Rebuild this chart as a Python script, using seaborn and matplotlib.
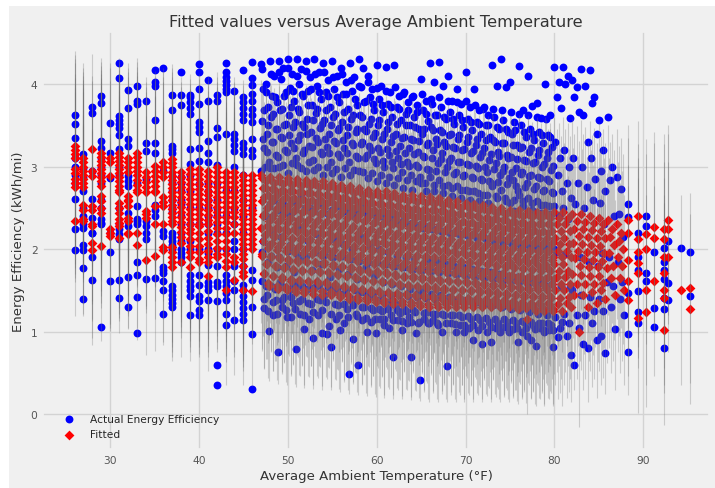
import numpy as np
import pandas as pd
import matplotlib
matplotlib.use("Agg")
import matplotlib.pyplot as plt
from matplotlib.patches import Rectangle
import seaborn as sns

HALF_WIDTH = 1.15  # half width of the prediction interval

# cold side: one column of trips per whole degree
sparse_temp = [26, 27, 28, 29, 30, 31, 32, 33, 34, 35, 36, 37, 38, 39, 40, 41, 42, 43, 44, 45, 46]
sparse_actual = [
    [3.63, 3.51, 3.35, 2.99, 2.61, 2.25, 1.99, 3.1, 2.9, 2.8],
    [3.15, 2.71, 2.26, 2.05, 1.99, 1.77, 1.40, 2.98, 2.88, 2.5, 2.4, 2.3],
    [3.72, 3.65, 2.61, 2.38, 2.2, 2.19, 1.91, 1.63, 2.95],
    [3.86, 3.77, 3.31, 3.23, 3.0, 2.36, 2.32, 2.3, 1.06, 2.9, 2.8, 2.6, 2.5, 3.1],
    [3.53, 3.17, 2.86, 1.96, 1.61, 2.2],
    [4.26, 4.07, 3.61, 3.56, 3.52, 3.47, 3.38, 3.21, 2.24, 2.18, 2.12, 1.63, 1.41, 2.9, 2.7, 2.5, 2.3, 3.0],
    [3.93, 3.71, 3.33, 3.25, 2.89, 2.82, 2.76, 2.44, 2.28, 2.34, 1.66, 1.30],
    [3.98, 3.80, 3.76, 2.52, 2.36, 2.34, 2.3, 1.85, 1.69, 1.42, 0.98, 2.8],
    [3.80, 3.28, 3.19, 2.28, 2.2, 2.12, 2.34, 1.64, 2.85],
    [4.17, 4.03, 3.98, 3.57, 3.29, 3.17, 2.54, 2.47, 2.40, 1.65],
    [4.19, 2.95, 2.22, 2.16, 1.79, 1.75, 1.71, 1.62, 1.51, 1.22],
    [3.87, 3.69, 3.25, 3.21, 3.17, 2.89, 2.45, 2.1, 2.05, 1.55, 1.5, 1.45, 1.40, 1.35, 1.30, 2.6, 2.7, 2.2, 2.15, 2.0, 2.5, 2.8],
    [4.15, 3.87, 3.74, 2.87, 2.55, 1.95, 1.9, 1.85, 2.6, 2.4, 2.3, 2.7, 2.2, 2.0, 2.8, 2.1],
    [3.87, 3.84, 3.78, 3.71, 3.64, 3.21, 3.03, 2.31, 1.69, 1.61, 1.56, 1.50, 1.43, 1.20, 2.5, 2.7, 2.9, 2.1, 2.0],
    [4.24, 4.15, 3.94, 3.76, 3.54, 3.48, 3.42, 3.23, 3.07, 2.79, 2.3, 1.69, 1.57, 1.43, 1.37, 1.26, 1.20, 2.5, 2.0],
    [4.05, 3.80, 3.31, 3.16, 3.05, 1.95, 1.81, 1.39, 2.6, 2.4, 2.2, 2.8, 2.0, 1.6, 1.55, 2.5, 2.7, 2.3, 1.5],
    [3.87, 3.80, 3.47, 3.36, 3.02, 1.80, 1.37, 0.60, 0.36, 2.6, 2.4, 2.2, 2.8, 2.0, 1.6, 1.55, 2.5, 2.3],
    [4.26, 4.14, 4.09, 4.04, 3.99, 3.94, 3.9, 3.39, 2.7, 1.69, 1.62, 1.55, 1.47, 1.39, 1.21, 1.08, 2.4, 2.2, 2.0],
    [3.92, 3.39, 3.33, 3.26, 3.19, 2.99, 1.61, 1.51, 1.14, 2.5, 2.3, 2.1, 2.7, 1.8, 2.0],
    [4.17, 3.84, 3.78, 3.71, 3.64, 3.57, 3.29, 3.22, 3.15, 1.57, 1.5, 1.43, 1.36, 1.29, 1.22, 1.14, 2.6, 2.4, 2.2, 2.0, 1.8, 2.9],
    [4.27, 4.07, 3.99, 3.88, 3.8, 3.7, 3.62, 3.54, 3.33, 3.2, 3.13, 1.75, 1.63, 1.3, 0.97, 0.31, 2.5],
]
sparse_fitted = [
    [3.25, 3.2, 3.15, 3.1, 2.97, 2.92, 2.85, 2.8, 2.75, 2.34],
    [3.11, 3.05, 3.0, 2.95, 2.9, 2.85, 2.8, 2.75, 2.54, 2.48, 2.36, 2.34],
    [3.21, 2.95, 2.89, 2.52, 2.48, 2.3, 2.28, 2.08, 1.99],
    [3.17, 3.12, 3.07, 3.02, 2.97, 2.92, 2.87, 2.82, 2.76, 2.64, 2.58, 2.5, 2.44, 2.04],
    [3.11, 3.05, 2.89, 2.24, 2.2, 2.16],
    [3.17, 3.12, 3.07, 3.02, 2.97, 2.92, 2.87, 2.82, 2.77, 2.72, 2.69, 2.56, 2.5, 2.44, 2.36, 2.32, 2.28, 2.14],
    [3.11, 3.05, 2.99, 2.93, 2.64, 2.6, 2.58, 2.52, 2.38, 2.34, 2.2, 2.18],
    [3.17, 3.12, 3.06, 3.0, 2.95, 2.9, 2.84, 2.78, 2.72, 2.69, 2.2, 2.05],
    [2.93, 2.87, 2.81, 2.75, 2.69, 2.46, 2.42, 2.38, 1.87],
    [3.01, 2.95, 2.89, 2.83, 2.77, 2.71, 2.69, 2.52, 2.3, 1.92],
    [3.05, 2.99, 2.93, 2.87, 2.63, 2.57, 2.52, 2.3, 2.03, 1.99],
    [3.09, 3.04, 2.99, 2.94, 2.89, 2.84, 2.79, 2.74, 2.69, 2.64, 2.59, 2.54, 2.49, 2.44, 2.39, 2.34, 2.3, 2.03, 1.97, 1.91, 1.85, 1.79],
    [2.93, 2.87, 2.81, 2.75, 2.69, 2.63, 2.57, 2.51, 2.45, 2.39, 2.33, 2.27, 2.21, 2.15, 2.08, 1.84],
    [2.97, 2.91, 2.85, 2.79, 2.73, 2.67, 2.61, 2.55, 2.49, 2.43, 2.37, 2.31, 2.25, 2.2, 2.12, 2.04, 1.96, 1.91, 1.79],
    [2.97, 2.91, 2.85, 2.79, 2.73, 2.67, 2.61, 2.55, 2.49, 2.43, 2.37, 2.31, 2.28, 2.2, 2.12, 2.04, 1.96, 1.88, 1.84],
    [2.95, 2.89, 2.83, 2.77, 2.71, 2.65, 2.59, 2.53, 2.47, 2.41, 2.35, 2.3, 2.22, 2.14, 2.06, 1.98, 1.9, 1.84, 1.67],
    [2.99, 2.93, 2.87, 2.81, 2.75, 2.69, 2.63, 2.57, 2.51, 2.45, 2.39, 2.33, 2.26, 2.18, 2.1, 2.02, 1.94, 1.91],
    [2.93, 2.87, 2.81, 2.75, 2.69, 2.63, 2.57, 2.51, 2.45, 2.39, 2.33, 2.26, 2.18, 2.1, 2.02, 1.94, 1.86, 1.78, 1.51],
    [2.93, 2.87, 2.81, 2.75, 2.69, 2.63, 2.57, 2.51, 2.45, 2.39, 2.3, 2.2, 1.9, 1.84, 1.63],
    [2.9, 2.84, 2.78, 2.72, 2.66, 2.6, 2.54, 2.48, 2.42, 2.36, 2.3, 2.24, 2.18, 2.12, 2.06, 2.0, 1.94, 1.88, 1.8, 1.72, 1.67, 1.51],
    [2.9, 2.84, 2.78, 2.72, 2.66, 2.6, 2.54, 2.48, 2.42, 2.36, 2.3, 2.24, 2.18, 2.12, 2.06, 2.0, 1.49],
]

# mild range: many trips per degree, readings spread over the degree
dense_temp = list(range(47, 88))
eighths = [0.0, 0.5, 0.25, 0.75, 0.125, 0.625, 0.375, 0.875]
dense_actual = [
    [4.24, 4.00, 3.94, 3.72, 3.55, 3.40, 3.22, 3.05, 2.95, 2.40, 2.10, 1.85, 1.62, 1.45, 1.29, 1.01],
    [4.28, 4.10, 3.86, 3.78, 3.60, 3.45, 3.30, 3.12, 2.98, 2.60, 2.20, 1.78, 1.55, 1.38, 1.20, 0.75],
    [4.28, 4.20, 4.06, 3.90, 3.68, 3.50, 3.35, 3.18, 3.00, 2.55, 2.15, 1.80, 1.60, 1.42, 1.30, 1.18],
    [4.30, 4.12, 3.95, 3.80, 3.62, 3.48, 3.28, 3.10, 2.92, 2.45, 2.05, 1.72, 1.50, 1.35, 1.18, 0.79],
    [4.30, 4.18, 4.00, 3.85, 3.70, 3.52, 3.38, 3.20, 3.02, 2.65, 2.25, 1.88, 1.58, 1.40, 1.22, 1.03],
    [4.28, 4.08, 3.92, 3.75, 3.58, 3.42, 3.25, 3.08, 2.95, 2.50, 2.10, 1.75, 1.52, 1.33, 1.15, 0.92],
    [4.30, 4.15, 3.98, 3.82, 3.65, 3.47, 3.30, 3.15, 2.96, 2.58, 2.18, 1.82, 1.56, 1.38, 1.20, 0.99],
    [4.25, 4.05, 3.90, 3.72, 3.56, 3.40, 3.24, 3.06, 2.90, 2.42, 2.00, 1.66, 1.45, 1.07, 0.97, 0.82],
    [4.28, 4.10, 3.94, 3.78, 3.60, 3.44, 3.28, 3.12, 2.92, 2.52, 2.12, 1.76, 1.50, 1.32, 1.16, 1.02],
    [4.20, 4.02, 3.88, 3.70, 3.54, 3.38, 3.22, 3.05, 2.88, 2.46, 2.06, 1.70, 1.46, 1.28, 1.10, 0.49],
    [4.25, 4.08, 3.92, 3.75, 3.58, 3.42, 3.26, 3.10, 2.90, 2.40, 2.00, 1.64, 1.40, 1.22, 0.91, 0.60],
    [4.30, 4.20, 3.96, 3.80, 3.62, 3.46, 3.30, 3.14, 2.95, 2.55, 2.15, 1.78, 1.48, 1.30, 1.14, 1.00],
    [4.10, 3.94, 3.84, 3.68, 3.52, 3.36, 3.20, 3.04, 2.86, 2.44, 2.04, 1.68, 1.42, 1.26, 1.12, 0.98],
    [4.23, 3.98, 3.82, 3.66, 3.50, 3.34, 3.18, 3.00, 2.82, 2.40, 2.00, 1.60, 1.38, 1.25, 1.15, 1.08],
    [4.21, 3.90, 3.76, 3.60, 3.45, 3.30, 3.14, 2.98, 2.80, 2.36, 1.96, 1.58, 1.36, 1.20, 1.05, 0.70],
    [4.23, 3.86, 3.72, 3.56, 3.40, 3.25, 3.10, 2.94, 2.78, 2.32, 1.92, 1.55, 1.34, 1.23, 1.14, 1.02],
    [3.88, 3.78, 3.64, 3.50, 3.36, 3.22, 3.06, 2.90, 2.74, 2.30, 1.90, 1.52, 1.28, 1.18, 1.10, 0.70],
    [3.84, 3.74, 3.60, 3.46, 3.32, 3.18, 3.02, 2.88, 2.72, 2.28, 1.88, 1.50, 1.26, 1.10, 0.98, 0.42],
    [4.06, 3.80, 3.68, 3.55, 3.40, 3.26, 3.12, 2.96, 2.80, 2.70, 2.26, 1.86, 1.48, 1.24, 1.15, 1.10],
    [4.25, 4.02, 3.76, 3.62, 3.48, 3.34, 3.20, 3.04, 2.88, 2.70, 2.24, 1.84, 1.46, 1.22, 1.14, 1.08],
    [4.27, 3.97, 3.72, 3.58, 3.44, 3.30, 3.16, 3.00, 2.84, 2.68, 2.22, 1.82, 1.44, 1.20, 1.00, 0.58],
    [4.10, 3.80, 3.66, 3.52, 3.38, 3.24, 3.10, 2.94, 2.78, 2.64, 2.20, 1.80, 1.42, 1.20, 1.10, 1.00],
    [3.94, 3.76, 3.62, 3.48, 3.34, 3.20, 3.06, 2.90, 2.76, 2.62, 2.18, 1.78, 1.40, 1.18, 1.08, 1.00],
    [4.15, 3.72, 3.58, 3.44, 3.30, 3.16, 3.02, 2.86, 2.72, 2.60, 2.16, 1.76, 1.38, 1.16, 1.05, 0.90],
    [3.94, 3.68, 3.54, 3.40, 3.26, 3.12, 2.98, 2.84, 2.70, 2.58, 2.14, 1.74, 1.36, 1.14, 1.02, 0.85],
    [3.70, 3.62, 3.50, 3.36, 3.22, 3.08, 2.94, 2.80, 2.66, 2.56, 2.12, 1.72, 1.34, 1.12, 1.00, 0.87],
    [4.23, 3.98, 3.60, 3.46, 3.32, 3.18, 3.04, 2.90, 2.76, 2.62, 2.10, 1.70, 1.32, 1.10, 1.04, 1.00],
    [4.30, 3.96, 3.56, 3.42, 3.28, 3.14, 3.00, 2.86, 2.72, 2.58, 2.08, 1.68, 1.30, 1.12, 1.06, 1.00],
    [4.03, 3.54, 3.40, 3.26, 3.12, 2.98, 2.84, 2.70, 2.56, 2.46, 2.06, 1.66, 1.28, 1.10, 1.03, 0.88],
    [4.22, 3.69, 3.50, 3.36, 3.22, 3.08, 2.94, 2.80, 2.66, 2.52, 2.04, 1.64, 1.26, 1.12, 1.00, 0.95],
    [4.10, 3.73, 3.46, 3.32, 3.18, 3.04, 2.90, 2.76, 2.62, 2.48, 2.02, 1.62, 1.24, 1.08, 0.90, 0.83],
    [3.77, 3.59, 3.42, 3.28, 3.14, 3.00, 2.86, 2.72, 2.58, 2.44, 2.00, 1.60, 1.22, 1.10, 1.05, 1.00],
    [4.00, 3.63, 3.38, 3.24, 3.10, 2.96, 2.82, 2.68, 2.54, 2.42, 1.98, 1.58, 1.20, 1.08, 1.02, 0.82],
    [4.21, 4.03, 3.84, 3.71, 3.30, 3.10, 2.90, 2.70, 2.52, 2.40, 1.96, 1.56, 1.18, 1.04, 0.94, 1.12],
    [4.21, 4.10, 4.00, 3.59, 3.20, 3.00, 2.80, 2.62, 2.50, 2.36, 1.94, 1.54, 1.22, 1.10, 0.95, 0.72],
    [4.05, 3.96, 3.84, 3.66, 3.10, 2.80, 2.55, 1.90, 1.50, 1.20, 0.60, 1.05],
    [4.18, 3.98, 3.63, 3.30, 3.00, 2.75, 2.50, 1.85, 1.45, 1.20, 0.85, 0.80],
    [4.17, 3.84, 3.77, 3.40, 3.10, 2.85, 2.60, 1.80, 1.42, 1.25, 1.10, 0.90],
    [3.56, 3.20, 2.95, 2.70, 2.56, 2.30, 1.95, 1.60, 1.40, 1.25, 0.95, 0.74],
    [3.60, 2.99, 2.84, 2.40, 1.90, 1.55, 1.30, 1.03],
    [2.87, 2.73, 2.43, 2.15, 1.85, 1.60, 1.40, 1.20],
]
dense_fitted = [
    [2.90, 2.82, 2.74, 2.66, 2.58, 2.50, 2.42, 2.34, 2.26, 2.18, 2.10, 2.01, 1.92, 1.82, 1.70, 1.55],
    [2.88, 2.80, 2.73, 2.65, 2.57, 2.49, 2.41, 2.33, 2.25, 2.17, 2.08, 1.99, 1.90, 1.80, 1.67, 1.52],
    [2.87, 2.79, 2.71, 2.63, 2.55, 2.47, 2.40, 2.32, 2.24, 2.16, 2.07, 1.98, 1.88, 1.77, 1.64, 1.50],
    [2.86, 2.78, 2.70, 2.62, 2.54, 2.46, 2.38, 2.30, 2.22, 2.14, 2.05, 1.96, 1.86, 1.75, 1.62, 1.48],
    [2.85, 2.77, 2.69, 2.61, 2.53, 2.45, 2.37, 2.29, 2.21, 2.13, 2.04, 1.95, 1.85, 1.74, 1.61, 1.47],
    [2.84, 2.76, 2.68, 2.60, 2.52, 2.44, 2.36, 2.28, 2.20, 2.12, 2.03, 1.94, 1.84, 1.73, 1.60, 1.46],
    [2.83, 2.75, 2.67, 2.59, 2.51, 2.43, 2.35, 2.27, 2.19, 2.11, 2.02, 1.93, 1.83, 1.72, 1.59, 1.45],
    [2.82, 2.74, 2.66, 2.58, 2.50, 2.42, 2.34, 2.26, 2.18, 2.10, 2.01, 1.92, 1.82, 1.71, 1.58, 1.44],
    [2.80, 2.72, 2.64, 2.56, 2.48, 2.40, 2.32, 2.24, 2.16, 2.08, 1.99, 1.90, 1.80, 1.69, 1.56, 1.42],
    [2.78, 2.70, 2.62, 2.54, 2.46, 2.38, 2.30, 2.22, 2.14, 2.06, 1.97, 1.88, 1.78, 1.67, 1.54, 1.40],
    [2.76, 2.68, 2.60, 2.52, 2.44, 2.36, 2.28, 2.20, 2.12, 2.04, 1.95, 1.86, 1.76, 1.65, 1.52, 1.38],
    [2.74, 2.66, 2.58, 2.50, 2.42, 2.34, 2.26, 2.18, 2.10, 2.02, 1.93, 1.84, 1.74, 1.63, 1.50, 1.37],
    [2.72, 2.64, 2.56, 2.48, 2.40, 2.32, 2.24, 2.16, 2.08, 2.00, 1.91, 1.82, 1.72, 1.61, 1.48, 1.36],
    [2.71, 2.63, 2.55, 2.47, 2.39, 2.31, 2.23, 2.15, 2.07, 1.99, 1.90, 1.81, 1.71, 1.60, 1.47, 1.35],
    [2.70, 2.62, 2.54, 2.46, 2.38, 2.30, 2.22, 2.14, 2.06, 1.98, 1.89, 1.80, 1.70, 1.59, 1.46, 1.34],
    [2.68, 2.60, 2.52, 2.44, 2.36, 2.28, 2.20, 2.12, 2.04, 1.96, 1.87, 1.78, 1.68, 1.57, 1.45, 1.33],
    [2.66, 2.58, 2.50, 2.42, 2.34, 2.26, 2.18, 2.10, 2.02, 1.94, 1.85, 1.76, 1.66, 1.55, 1.44, 1.32],
    [2.65, 2.57, 2.49, 2.41, 2.33, 2.25, 2.17, 2.09, 2.01, 1.93, 1.84, 1.75, 1.65, 1.54, 1.43, 1.31],
    [2.64, 2.56, 2.48, 2.40, 2.32, 2.24, 2.16, 2.08, 2.00, 1.92, 1.83, 1.74, 1.64, 1.53, 1.42, 1.30],
    [2.63, 2.55, 2.47, 2.39, 2.31, 2.23, 2.15, 2.07, 1.99, 1.91, 1.82, 1.73, 1.63, 1.52, 1.41, 1.30],
    [2.62, 2.54, 2.46, 2.38, 2.30, 2.22, 2.14, 2.06, 1.98, 1.90, 1.81, 1.72, 1.62, 1.51, 1.40, 1.30],
    [2.60, 2.52, 2.44, 2.36, 2.28, 2.20, 2.12, 2.04, 1.96, 1.88, 1.80, 1.71, 1.61, 1.50, 1.39, 1.30],
    [2.58, 2.50, 2.42, 2.34, 2.26, 2.18, 2.10, 2.02, 1.94, 1.86, 1.78, 1.70, 1.60, 1.50, 1.39, 1.30],
    [2.56, 2.49, 2.41, 2.33, 2.25, 2.17, 2.09, 2.01, 1.93, 1.85, 1.77, 1.69, 1.59, 1.49, 1.38, 1.30],
    [2.55, 2.47, 2.40, 2.32, 2.24, 2.16, 2.08, 2.00, 1.92, 1.84, 1.76, 1.68, 1.58, 1.48, 1.38, 1.30],
    [2.53, 2.46, 2.38, 2.30, 2.22, 2.14, 2.06, 1.98, 1.90, 1.82, 1.74, 1.66, 1.57, 1.47, 1.37, 1.30],
    [2.51, 2.44, 2.36, 2.28, 2.20, 2.12, 2.04, 1.96, 1.88, 1.80, 1.72, 1.64, 1.56, 1.46, 1.36, 1.30],
    [2.50, 2.43, 2.35, 2.27, 2.19, 2.11, 2.03, 1.95, 1.87, 1.79, 1.71, 1.63, 1.55, 1.45, 1.36, 1.30],
    [2.48, 2.41, 2.33, 2.25, 2.17, 2.09, 2.01, 1.93, 1.85, 1.77, 1.69, 1.61, 1.53, 1.44, 1.35, 1.28],
    [2.47, 2.40, 2.32, 2.24, 2.16, 2.08, 2.00, 1.92, 1.84, 1.76, 1.68, 1.60, 1.52, 1.42, 1.33, 1.15],
    [2.46, 2.39, 2.31, 2.23, 2.15, 2.07, 1.99, 1.91, 1.83, 1.75, 1.67, 1.59, 1.51, 1.42, 1.33, 1.25],
    [2.45, 2.38, 2.30, 2.22, 2.14, 2.06, 1.98, 1.90, 1.82, 1.74, 1.66, 1.58, 1.50, 1.41, 1.33, 1.25],
    [2.45, 2.38, 2.30, 2.22, 2.14, 2.06, 1.98, 1.90, 1.82, 1.74, 1.66, 1.58, 1.50, 1.41, 1.33, 1.25],
    [2.45, 2.38, 2.30, 2.22, 2.14, 2.06, 1.98, 1.90, 1.82, 1.74, 1.66, 1.58, 1.50, 1.41, 1.33, 1.25],
    [2.45, 2.38, 2.30, 2.22, 2.14, 2.06, 1.98, 1.90, 1.82, 1.74, 1.66, 1.58, 1.50, 1.42, 1.35, 1.30],
    [2.43, 2.34, 2.25, 2.16, 2.07, 1.98, 1.89, 1.80, 1.70, 1.58, 1.45, 1.00],
    [2.42, 2.33, 2.24, 2.15, 2.06, 1.97, 1.88, 1.79, 1.69, 1.58, 1.45, 1.30],
    [2.40, 2.32, 2.23, 2.14, 2.05, 1.96, 1.87, 1.78, 1.68, 1.58, 1.48, 1.35],
    [2.38, 2.30, 2.22, 2.13, 2.04, 1.95, 1.86, 1.77, 1.68, 1.59, 1.50, 1.40],
    [2.35, 2.25, 2.15, 2.05, 1.95, 1.80, 1.65, 1.45],
    [2.30, 2.20, 2.10, 2.00, 1.90, 1.80, 1.65, 1.50],
]

# second batch of trips in the busiest stretch (47-79 F), read between the first ones
busy_temp = list(range(47, 80))
sixteenths = [0.0625, 0.5625, 0.3125, 0.8125, 0.1875, 0.6875, 0.4375, 0.9375]
busy_actual = [
    [4.18, 3.90, 3.68, 3.50, 3.34, 3.18, 3.00, 2.52, 1.96, 1.56, 1.40, 1.25],
    [4.12, 3.84, 3.64, 3.46, 3.30, 3.14, 2.98, 2.48, 1.92, 1.52, 1.36, 1.22],
    [4.15, 3.86, 3.70, 3.52, 3.36, 3.20, 3.02, 2.44, 1.90, 1.54, 1.38, 1.26],
    [4.20, 3.92, 3.72, 3.54, 3.38, 3.22, 3.04, 2.56, 1.98, 1.58, 1.42, 1.28],
    [4.10, 3.88, 3.66, 3.48, 3.32, 3.16, 2.98, 2.50, 1.94, 1.55, 1.37, 1.20],
    [4.16, 3.94, 3.74, 3.56, 3.40, 3.24, 3.06, 2.46, 1.92, 1.53, 1.35, 1.24],
    [4.12, 3.90, 3.70, 3.52, 3.35, 3.18, 3.00, 2.54, 1.96, 1.57, 1.40, 1.26],
    [4.14, 3.86, 3.68, 3.50, 3.34, 3.17, 2.99, 2.48, 1.93, 1.54, 1.36, 1.22],
    [4.08, 3.84, 3.64, 3.47, 3.31, 3.15, 2.97, 2.44, 1.90, 1.52, 1.34, 1.20],
    [4.12, 3.88, 3.66, 3.48, 3.32, 3.16, 2.98, 2.50, 1.92, 1.50, 1.33, 1.18],
    [4.05, 3.82, 3.62, 3.45, 3.29, 3.13, 2.96, 2.46, 1.88, 1.50, 1.32, 1.19],
    [3.98, 3.78, 3.60, 3.43, 3.27, 3.11, 2.94, 2.42, 1.86, 1.48, 1.30, 1.17],
    [4.02, 3.76, 3.58, 3.41, 3.25, 3.09, 2.92, 2.40, 1.85, 1.47, 1.29, 1.16],
    [3.95, 3.74, 3.56, 3.39, 3.23, 3.07, 2.90, 2.38, 1.84, 1.46, 1.28, 1.15],
    [3.92, 3.72, 3.54, 3.37, 3.21, 3.05, 2.88, 2.36, 1.82, 1.45, 1.27, 1.14],
    [3.96, 3.70, 3.52, 3.35, 3.19, 3.03, 2.86, 2.34, 1.80, 1.44, 1.26, 1.13],
    [3.90, 3.68, 3.50, 3.33, 3.17, 3.01, 2.84, 2.32, 1.78, 1.43, 1.25, 1.12],
    [3.86, 3.66, 3.48, 3.31, 3.15, 2.99, 2.82, 2.30, 1.76, 1.42, 1.24, 1.12],
    [3.88, 3.64, 3.46, 3.29, 3.13, 2.97, 2.80, 2.28, 1.75, 1.41, 1.23, 1.11],
    [3.82, 3.62, 3.44, 3.27, 3.11, 2.95, 2.78, 2.26, 1.74, 1.40, 1.22, 1.10],
    [3.84, 3.60, 3.42, 3.25, 3.09, 2.93, 2.76, 2.24, 1.72, 1.40, 1.21, 1.10],
    [3.80, 3.58, 3.40, 3.23, 3.07, 2.91, 2.74, 2.22, 1.71, 1.39, 1.20, 1.09],
    [3.78, 3.56, 3.38, 3.21, 3.05, 2.89, 2.72, 2.20, 1.70, 1.38, 1.20, 1.08],
    [3.80, 3.54, 3.36, 3.19, 3.03, 2.87, 2.70, 2.18, 1.68, 1.37, 1.19, 1.08],
    [3.74, 3.52, 3.34, 3.17, 3.01, 2.85, 2.68, 2.16, 1.66, 1.36, 1.18, 1.07],
    [3.72, 3.50, 3.32, 3.15, 2.99, 2.83, 2.66, 2.14, 1.65, 1.35, 1.17, 1.06],
    [3.70, 3.48, 3.30, 3.13, 2.97, 2.81, 2.64, 2.12, 1.64, 1.34, 1.16, 1.06],
    [3.68, 3.46, 3.28, 3.11, 2.95, 2.79, 2.62, 2.10, 1.62, 1.33, 1.15, 1.05],
    [3.66, 3.44, 3.26, 3.09, 2.93, 2.77, 2.60, 2.08, 1.61, 1.32, 1.14, 1.04],
    [3.64, 3.42, 3.24, 3.07, 2.91, 2.75, 2.58, 2.06, 1.60, 1.31, 1.13, 1.04],
    [3.62, 3.40, 3.22, 3.05, 2.89, 2.73, 2.56, 2.04, 1.58, 1.30, 1.12, 1.03],
    [3.60, 3.38, 3.20, 3.03, 2.87, 2.71, 2.54, 2.02, 1.57, 1.29, 1.11, 1.02],
    [3.58, 3.36, 3.18, 3.01, 2.85, 2.69, 2.52, 2.00, 1.56, 1.28, 1.10, 1.02],
]
busy_fitted = [
    [2.86, 2.74, 2.63, 2.51, 2.40, 2.28, 2.17, 2.05, 1.94, 1.82, 1.71, 1.59],
    [2.84, 2.72, 2.61, 2.49, 2.38, 2.26, 2.15, 2.03, 1.92, 1.80, 1.68, 1.56],
    [2.83, 2.71, 2.60, 2.48, 2.37, 2.25, 2.14, 2.02, 1.90, 1.78, 1.66, 1.54],
    [2.82, 2.70, 2.59, 2.47, 2.36, 2.24, 2.12, 2.00, 1.88, 1.76, 1.64, 1.52],
    [2.81, 2.69, 2.58, 2.46, 2.35, 2.23, 2.11, 1.99, 1.87, 1.75, 1.63, 1.51],
    [2.80, 2.68, 2.57, 2.45, 2.34, 2.22, 2.10, 1.98, 1.86, 1.74, 1.62, 1.50],
    [2.79, 2.67, 2.56, 2.44, 2.33, 2.21, 2.09, 1.97, 1.85, 1.73, 1.61, 1.49],
    [2.78, 2.66, 2.55, 2.43, 2.32, 2.20, 2.08, 1.96, 1.84, 1.72, 1.60, 1.48],
    [2.76, 2.64, 2.53, 2.41, 2.30, 2.18, 2.06, 1.94, 1.82, 1.70, 1.58, 1.46],
    [2.74, 2.62, 2.51, 2.39, 2.28, 2.16, 2.04, 1.92, 1.80, 1.68, 1.56, 1.44],
    [2.72, 2.60, 2.49, 2.37, 2.26, 2.14, 2.02, 1.90, 1.78, 1.66, 1.54, 1.42],
    [2.70, 2.58, 2.47, 2.35, 2.24, 2.12, 2.00, 1.88, 1.76, 1.64, 1.52, 1.41],
    [2.68, 2.56, 2.45, 2.33, 2.22, 2.10, 1.98, 1.86, 1.74, 1.62, 1.50, 1.40],
    [2.67, 2.55, 2.44, 2.32, 2.21, 2.09, 1.97, 1.85, 1.73, 1.61, 1.49, 1.39],
    [2.66, 2.54, 2.43, 2.31, 2.20, 2.08, 1.96, 1.84, 1.72, 1.60, 1.48, 1.38],
    [2.64, 2.52, 2.41, 2.29, 2.18, 2.06, 1.94, 1.82, 1.70, 1.58, 1.47, 1.37],
    [2.62, 2.50, 2.39, 2.27, 2.16, 2.04, 1.92, 1.80, 1.68, 1.57, 1.46, 1.36],
    [2.61, 2.49, 2.38, 2.26, 2.15, 2.03, 1.91, 1.79, 1.67, 1.56, 1.45, 1.35],
    [2.60, 2.48, 2.37, 2.25, 2.14, 2.02, 1.90, 1.78, 1.66, 1.55, 1.44, 1.34],
    [2.59, 2.47, 2.36, 2.24, 2.13, 2.01, 1.89, 1.77, 1.65, 1.54, 1.43, 1.34],
    [2.58, 2.46, 2.35, 2.23, 2.12, 2.00, 1.88, 1.76, 1.64, 1.53, 1.43, 1.34],
    [2.56, 2.44, 2.33, 2.21, 2.10, 1.98, 1.86, 1.74, 1.63, 1.52, 1.42, 1.34],
    [2.54, 2.42, 2.31, 2.19, 2.08, 1.96, 1.85, 1.73, 1.62, 1.51, 1.42, 1.34],
    [2.53, 2.41, 2.30, 2.18, 2.07, 1.95, 1.84, 1.72, 1.61, 1.50, 1.41, 1.34],
    [2.51, 2.39, 2.28, 2.16, 2.05, 1.94, 1.83, 1.71, 1.60, 1.50, 1.41, 1.34],
    [2.49, 2.38, 2.27, 2.15, 2.04, 1.93, 1.82, 1.70, 1.59, 1.49, 1.40, 1.34],
    [2.48, 2.36, 2.25, 2.14, 2.03, 1.92, 1.81, 1.69, 1.58, 1.48, 1.40, 1.33],
    [2.46, 2.35, 2.24, 2.13, 2.02, 1.91, 1.80, 1.68, 1.57, 1.47, 1.39, 1.33],
    [2.45, 2.33, 2.22, 2.11, 2.00, 1.89, 1.78, 1.66, 1.55, 1.45, 1.37, 1.31],
    [2.43, 2.32, 2.21, 2.10, 1.99, 1.88, 1.77, 1.65, 1.54, 1.44, 1.36, 1.29],
    [2.42, 2.31, 2.20, 2.09, 1.98, 1.87, 1.76, 1.64, 1.53, 1.43, 1.35, 1.28],
    [2.42, 2.31, 2.20, 2.09, 1.98, 1.87, 1.76, 1.64, 1.53, 1.43, 1.35, 1.28],
    [2.42, 2.31, 2.20, 2.09, 1.98, 1.87, 1.76, 1.64, 1.53, 1.43, 1.35, 1.28],
]

# hot tail: a handful of single trips
tail_temp = [88.3, 88.3, 88.3, 88.3, 88.3,
             89.4, 89.4, 89.4, 89.4, 89.4, 89.4,
             90.3, 90.3, 90.3, 90.3,
             91.2, 91.2, 91.2,
             92.3, 92.3, 92.3, 92.3, 92.3, 92.3, 92.3,
             92.8, 92.8, 92.8,
             94.3, 95.3, 95.3]
tail_actual = [2.55, 2.39, 1.47, 0.76, 0.97,
               2.2, 1.75, 1.49, 1.24, 1.10, 1.9,
               2.40, 2.28, 1.71, 1.61,
               1.97, 1.29, 1.06,
               2.02, 1.85, 1.75, 1.64, 1.41, 1.27, 0.80,
               1.59, 1.39, 2.1,
               2.02, 1.97, 1.43]
tail_fitted = [2.35, 1.87, 1.61, 1.39, 2.2,
               2.40, 2.12, 1.96, 1.83, 1.71, 1.17,
               2.18, 2.0, 1.50, 1.24,
               2.27, 2.14, 1.61,
               2.24, 2.12, 1.91, 1.71, 1.51, 1.41, 1.02,
               2.35, 2.24, 1.91,
               1.51, 1.53, 1.28]

rows = []
for t, acts, fits in zip(sparse_temp, sparse_actual, sparse_fitted):
    for a, f in zip(acts, fits):
        rows.append((t, a, f))
for t, acts, fits in zip(dense_temp, dense_actual, dense_fitted):
    for i, (a, f) in enumerate(zip(acts, fits)):
        rows.append((t + eighths[i % 8], a, f))
for t, acts, fits in zip(busy_temp, busy_actual, busy_fitted):
    for i, (a, f) in enumerate(zip(acts, fits)):
        rows.append((t + sixteenths[i % 8], a, f))
for t, a, f in zip(tail_temp, tail_actual, tail_fitted):
    rows.append((t, a, f))
df = pd.DataFrame(rows, columns=["temp", "actual", "fitted"])

sns.set_theme(style="darkgrid", rc={
    "axes.facecolor": "#f0f0f0",
    "figure.facecolor": "#f0f0f0",
    "axes.edgecolor": "#f0f0f0",
    "grid.color": "#d3d3d3",
    "grid.linewidth": 1.0,
    "xtick.major.size": 0,
    "ytick.major.size": 0,
})
plt.rcParams["font.family"] = ["DejaVu Sans"]

fig = plt.figure(figsize=(7.15, 4.89), dpi=100)
ax = fig.add_axes([43 / 715, 1 - 450 / 489, (709 - 43) / 715, (450 - 33) / 489])

sns.scatterplot(data=df, x="temp", y="actual", ax=ax, color="blue", marker="o",
                s=32, linewidth=0, label="Actual Energy Efficiency", zorder=2)
sns.scatterplot(data=df, x="temp", y="fitted", ax=ax, color="red", marker="D",
                s=25, linewidth=0, label="Fitted", zorder=2)
ax.vlines(df["temp"], df["fitted"] - HALF_WIDTH, df["fitted"] + HALF_WIDTH,
          colors="#707070", alpha=0.3, linewidth=0.8, zorder=3)

ax.set_xlim(22.45, 97.4)
ax.set_ylim(-0.42, 4.63)
ax.set_xticks([30, 40, 50, 60, 70, 80, 90])
ax.set_yticks([0, 1, 2, 3, 4])
ax.tick_params(labelsize=7.7, labelcolor="#555555", pad=4)

ax.set_title("Fitted values versus Average Ambient Temperature", fontsize=11.6,
             color="#333333", pad=4)
ax.set_xlabel("Average Ambient Temperature (°F)", fontsize=9.5, color="#333333", labelpad=3)
ax.set_ylabel("Energy Efficiency (kWh/mi)", fontsize=9.5, color="#333333", labelpad=4)

ax.legend(loc="lower left", bbox_to_anchor=(0.008, 0.0), frameon=False,
          fontsize=7.7, handletextpad=1.0, borderaxespad=0.5)

# white margin left and top, as in the notebook render
fig.add_artist(Rectangle((0, 0), 9 / 715, 1, transform=fig.transFigure,
                         facecolor="white", edgecolor="none", zorder=0))
fig.add_artist(Rectangle((0, 1 - 7 / 489), 1, 7 / 489, transform=fig.transFigure,
                         facecolor="white", edgecolor="none", zorder=0))

fig.savefig("out.png", dpi=100, facecolor=fig.get_facecolor())
